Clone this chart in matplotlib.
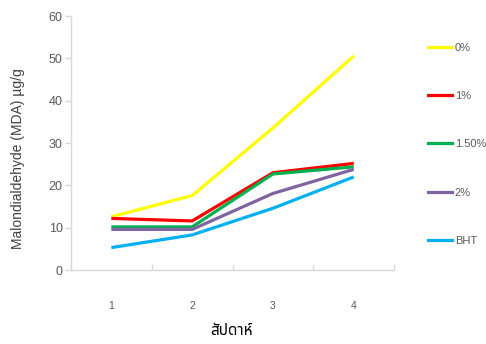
import matplotlib
matplotlib.use("Agg")
import matplotlib.pyplot as plt
from matplotlib.lines import Line2D

# Data
weeks = [1, 2, 3, 4]
week_labels = ["1", "2", "3", "4"]
series_names = ["0%", "1%", "1.50%", "2%", "BHT"]
mda_0 = [12.6, 17.6, 33.6, 50.6]
mda_1 = [12.2, 11.6, 23.0, 25.2]
mda_150 = [10.2, 10.2, 22.7, 24.4]
mda_2 = [9.6, 9.6, 18.1, 23.8]
mda_bht = [5.3, 8.3, 14.6, 22.0]

colors = ["#FFFF00", "#FF0000", "#00B050", "#8064A2", "#00B0F0"]
GRID = "#D9D9D9"
TXT = "#595959"

plt.rcParams["font.family"] = ["Liberation Sans", "Noto Sans Thai", "DejaVu Sans"]

fig = plt.figure(figsize=(4.86, 3.44), dpi=100)
ax = fig.add_axes([0.146, 0.215, 0.665, 0.738])

for vals, name, c in zip([mda_0, mda_1, mda_150, mda_2, mda_bht],
                         series_names, colors):
    ax.plot(weeks, vals, color=c, lw=2.3, label=name, solid_capstyle="butt")

ax.set_xlim(0.5, 4.5)
ax.set_ylim(0, 60)
ax.set_yticks(range(0, 61, 10))
ax.set_xticks([0.5, 1.5, 2.5, 3.5, 4.5])
ax.set_xticklabels([])
ax.set_xticks(weeks, minor=True)
ax.set_xticklabels(week_labels, minor=True)

for s in ["top", "right"]:
    ax.spines[s].set_visible(False)
for s in ["left", "bottom"]:
    ax.spines[s].set_color(GRID)
    ax.spines[s].set_linewidth(1.0)

ax.tick_params(axis="y", which="major", length=4, width=1, color=GRID,
               labelcolor=TXT, labelsize=9, pad=2)
ax.tick_params(axis="x", which="major", length=4, width=1, color=GRID,
               direction="in")
ax.tick_params(axis="x", which="minor", length=0, labelcolor=TXT,
               labelsize=7.5, pad=22)

fig.text(0.037, 0.538, "Malondialdehyde (MDA) µg/g", rotation=90,
         ha="center", va="center", fontsize=10, color="#404040")
fig.text(0.477, 0.035, "สัปดาห์", ha="center", va="center",
         fontsize=11, fontweight="bold", color="#000000",
         family=["Noto Sans Thai", "DejaVu Sans"])

handles = [Line2D([], [], color=c, lw=2.3) for c in colors]
leg = fig.legend(handles, series_names, loc="upper left",
                 bbox_to_anchor=(0.88, 0.876), frameon=False,
                 fontsize=8, handlelength=2.2, handletextpad=0.25,
                 labelspacing=3.45, borderpad=0, borderaxespad=0)
for t in leg.get_texts():
    t.set_color(TXT)

fig.savefig("out.png", dpi=100)
